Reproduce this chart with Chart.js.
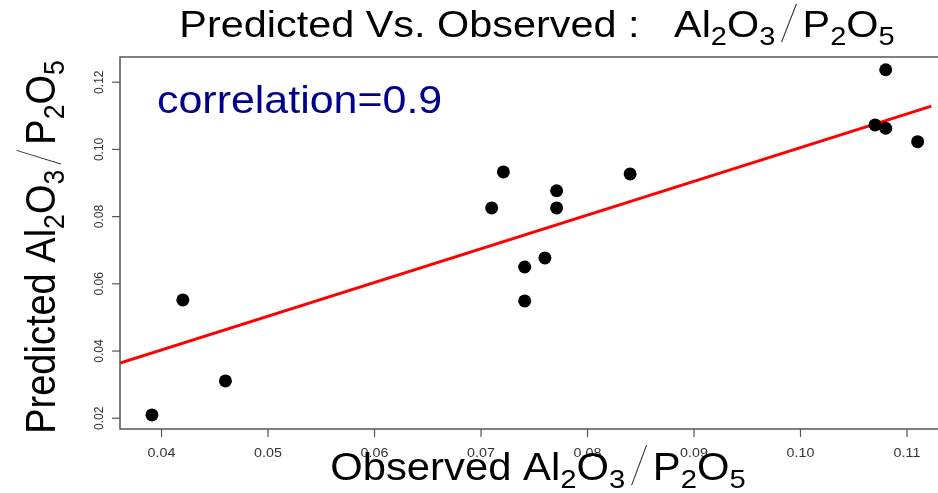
<!DOCTYPE html>
<html>
<head>
<meta charset="utf-8">
<script src="https://cdn.jsdelivr.net/npm/chart.js@4/dist/chart.umd.min.js"></script>
<style>
  html, body { margin: 0; padding: 0; background: #fff; }
  canvas { display: block; }
</style>
</head>
<body>
<canvas id="predChart" width="938" height="493"></canvas>
<script>
const observed = [0.0391, 0.0420, 0.0460, 0.0710, 0.0721, 0.0741, 0.0741, 0.0760, 0.0771, 0.0771, 0.0840, 0.1070, 0.1080, 0.1080, 0.1110];
const predicted = [0.0210, 0.0552, 0.0311, 0.0826, 0.0933, 0.0650, 0.0549, 0.0677, 0.0877, 0.0826, 0.0927, 0.1073, 0.1237, 0.1063, 0.1023];

// fitted line, read at the two ends of the plot
const fitObserved = [0.0361, 0.1123];
const fitPredicted = [0.0364, 0.1129];

const xTicks = [0.04, 0.05, 0.06, 0.07, 0.08, 0.09, 0.10, 0.11];
const yTicks = [0.02, 0.04, 0.06, 0.08, 0.10, 0.12];
const xTickLabels = ['0.04', '0.05', '0.06', '0.07', '0.08', '0.09', '0.10', '0.11'];
const yTickLabels = ['0.02', '0.04', '0.06', '0.08', '0.10', '0.12'];

const corrText = 'correlation=0.9';
const titleLead = 'Predicted Vs. Observed :   ';
const xLead = 'Observed ';
const yLead = 'Predicted ';

const FONT = '"Liberation Sans", Arial, sans-serif';
const stretch = 1.1;

// Al2O3 / P2O5 with subscripts
const ratioParts = [['t', 'Al'], ['s', '2'], ['t', 'O'], ['s', '3'], ['/'], ['t', 'P'], ['s', '2'], ['t', 'O'], ['s', '5']];

function mathWidth(ctx, parts, size) {
  let w = 0;
  parts.forEach((p) => {
    if (p[0] === '/') { w += size * 0.66; return; }
    ctx.font = (p[0] === 's' ? size * 0.7 : size) + 'px ' + FONT;
    w += ctx.measureText(p[1]).width;
  });
  return w;
}

function mathDraw(ctx, parts, size) {
  let x = 0;
  parts.forEach((p) => {
    if (p[0] === '/') {
      const gap = size * 0.15;
      ctx.save();
      ctx.strokeStyle = '#333';
      ctx.lineWidth = 1;
      ctx.beginPath();
      ctx.moveTo(x + gap, size * 0.14);
      ctx.lineTo(x + size * 0.66 - gap, -size * 0.92);
      ctx.stroke();
      ctx.restore();
      x += size * 0.66;
      return;
    }
    const sub = p[0] === 's';
    ctx.font = (sub ? size * 0.7 : size) + 'px ' + FONT;
    ctx.fillText(p[1], x, sub ? size * 0.21 : 0);
    x += ctx.measureText(p[1]).width;
  });
}

function label(ctx, lead, size) {
  ctx.font = size + 'px ' + FONT;
  const lw = ctx.measureText(lead).width;
  return { lw, total: lw + mathWidth(ctx, ratioParts, size) };
}

function horizontalLabel(ctx, lead, size, sx, cx, baseline) {
  const m = label(ctx, lead, size);
  ctx.save();
  ctx.translate(cx - (m.total * sx) / 2, baseline);
  ctx.scale(sx, 1);
  ctx.font = size + 'px ' + FONT;
  ctx.fillText(lead, 0, 0);
  ctx.translate(m.lw, 0);
  mathDraw(ctx, ratioParts, size);
  ctx.restore();
}

const annotations = {
  id: 'annotations',
  afterDraw(chart) {
    const { ctx, chartArea, scales } = chart;
    const xs = scales.x;
    const ys = scales.y;
    ctx.save();

    // box (right side falls outside the picture)
    ctx.strokeStyle = '#555';
    ctx.lineWidth = 1.5;
    ctx.beginPath();
    ctx.moveTo(chartArea.right + 20, chartArea.top);
    ctx.lineTo(chartArea.left, chartArea.top);
    ctx.lineTo(chartArea.left, chartArea.bottom);
    ctx.lineTo(chartArea.right + 20, chartArea.bottom);
    ctx.stroke();

    // ticks
    ctx.lineWidth = 1.2;
    ctx.fillStyle = '#333';
    ctx.textAlign = 'center';
    ctx.textBaseline = 'middle';
    xTicks.forEach((v, i) => {
      const px = xs.getPixelForValue(v);
      ctx.beginPath();
      ctx.moveTo(px, chartArea.bottom);
      ctx.lineTo(px, chartArea.bottom + 8);
      ctx.stroke();
      ctx.save();
      ctx.translate(px, 453);
      ctx.scale(stretch, 1);
      ctx.font = '13px ' + FONT;
      ctx.fillText(xTickLabels[i], 0, 0);
      ctx.restore();
    });
    yTicks.forEach((v, i) => {
      const py = ys.getPixelForValue(v);
      ctx.beginPath();
      ctx.moveTo(chartArea.left - 8, py);
      ctx.lineTo(chartArea.left, py);
      ctx.stroke();
      ctx.save();
      ctx.translate(100, py);
      ctx.rotate(-Math.PI / 2);
      ctx.font = '12px ' + FONT;
      ctx.fillText(yTickLabels[i], 0, 0);
      ctx.restore();
    });

    ctx.textAlign = 'left';
    ctx.textBaseline = 'alphabetic';
    ctx.fillStyle = '#000';

    // title and x title
    horizontalLabel(ctx, titleLead, 36, 1.15, 537, 37);
    horizontalLabel(ctx, xLead, 38, stretch, 538, 480);

    // y title
    const size = 38;
    const m = label(ctx, yLead, size);
    ctx.save();
    ctx.translate(55, 247 + m.total / 2);
    ctx.rotate(-Math.PI / 2);
    ctx.scale(1, stretch);
    ctx.font = size + 'px ' + FONT;
    ctx.fillText(yLead, 0, 0);
    ctx.translate(m.lw, 0);
    mathDraw(ctx, ratioParts, size);
    ctx.restore();

    // correlation note
    ctx.save();
    ctx.translate(157, 113);
    ctx.scale(1.13, 1);
    ctx.fillStyle = '#00008B';
    ctx.font = size + 'px ' + FONT;
    ctx.fillText(corrText, 0, 0);
    ctx.restore();

    ctx.restore();
  },
};

const ctx = document.getElementById('predChart').getContext('2d');

const chartData = {
  datasets: [
    {
      type: 'line',
      label: 'fit',
      data: fitObserved.map((x, i) => ({ x, y: fitPredicted[i] })),
      borderColor: '#ff0000',
      borderWidth: 3,
      pointRadius: 0,
      fill: false,
      tension: 0,
      order: 2,
    },
    {
      type: 'scatter',
      label: 'samples',
      data: observed.map((x, i) => ({ x, y: predicted[i] })),
      backgroundColor: '#000',
      borderColor: '#000',
      pointRadius: 6.5,
      pointBorderWidth: 0,
      clip: false,
      order: 1,
    },
  ],
};

const predChart = new Chart(ctx, {
  data: chartData,
  options: {
    responsive: false,
    animation: false,
    devicePixelRatio: 1,
    layout: { padding: { left: 120, top: 57, right: 0, bottom: 64 } },
    plugins: {
      legend: { display: false },
      tooltip: { enabled: false },
    },
    scales: {
      x: { type: 'linear', display: false, min: 0.0361, max: 0.1123 },
      y: { type: 'linear', display: false, min: 0.0168, max: 0.1275 },
    },
  },
  plugins: [annotations],
});
</script>
</body>
</html>
